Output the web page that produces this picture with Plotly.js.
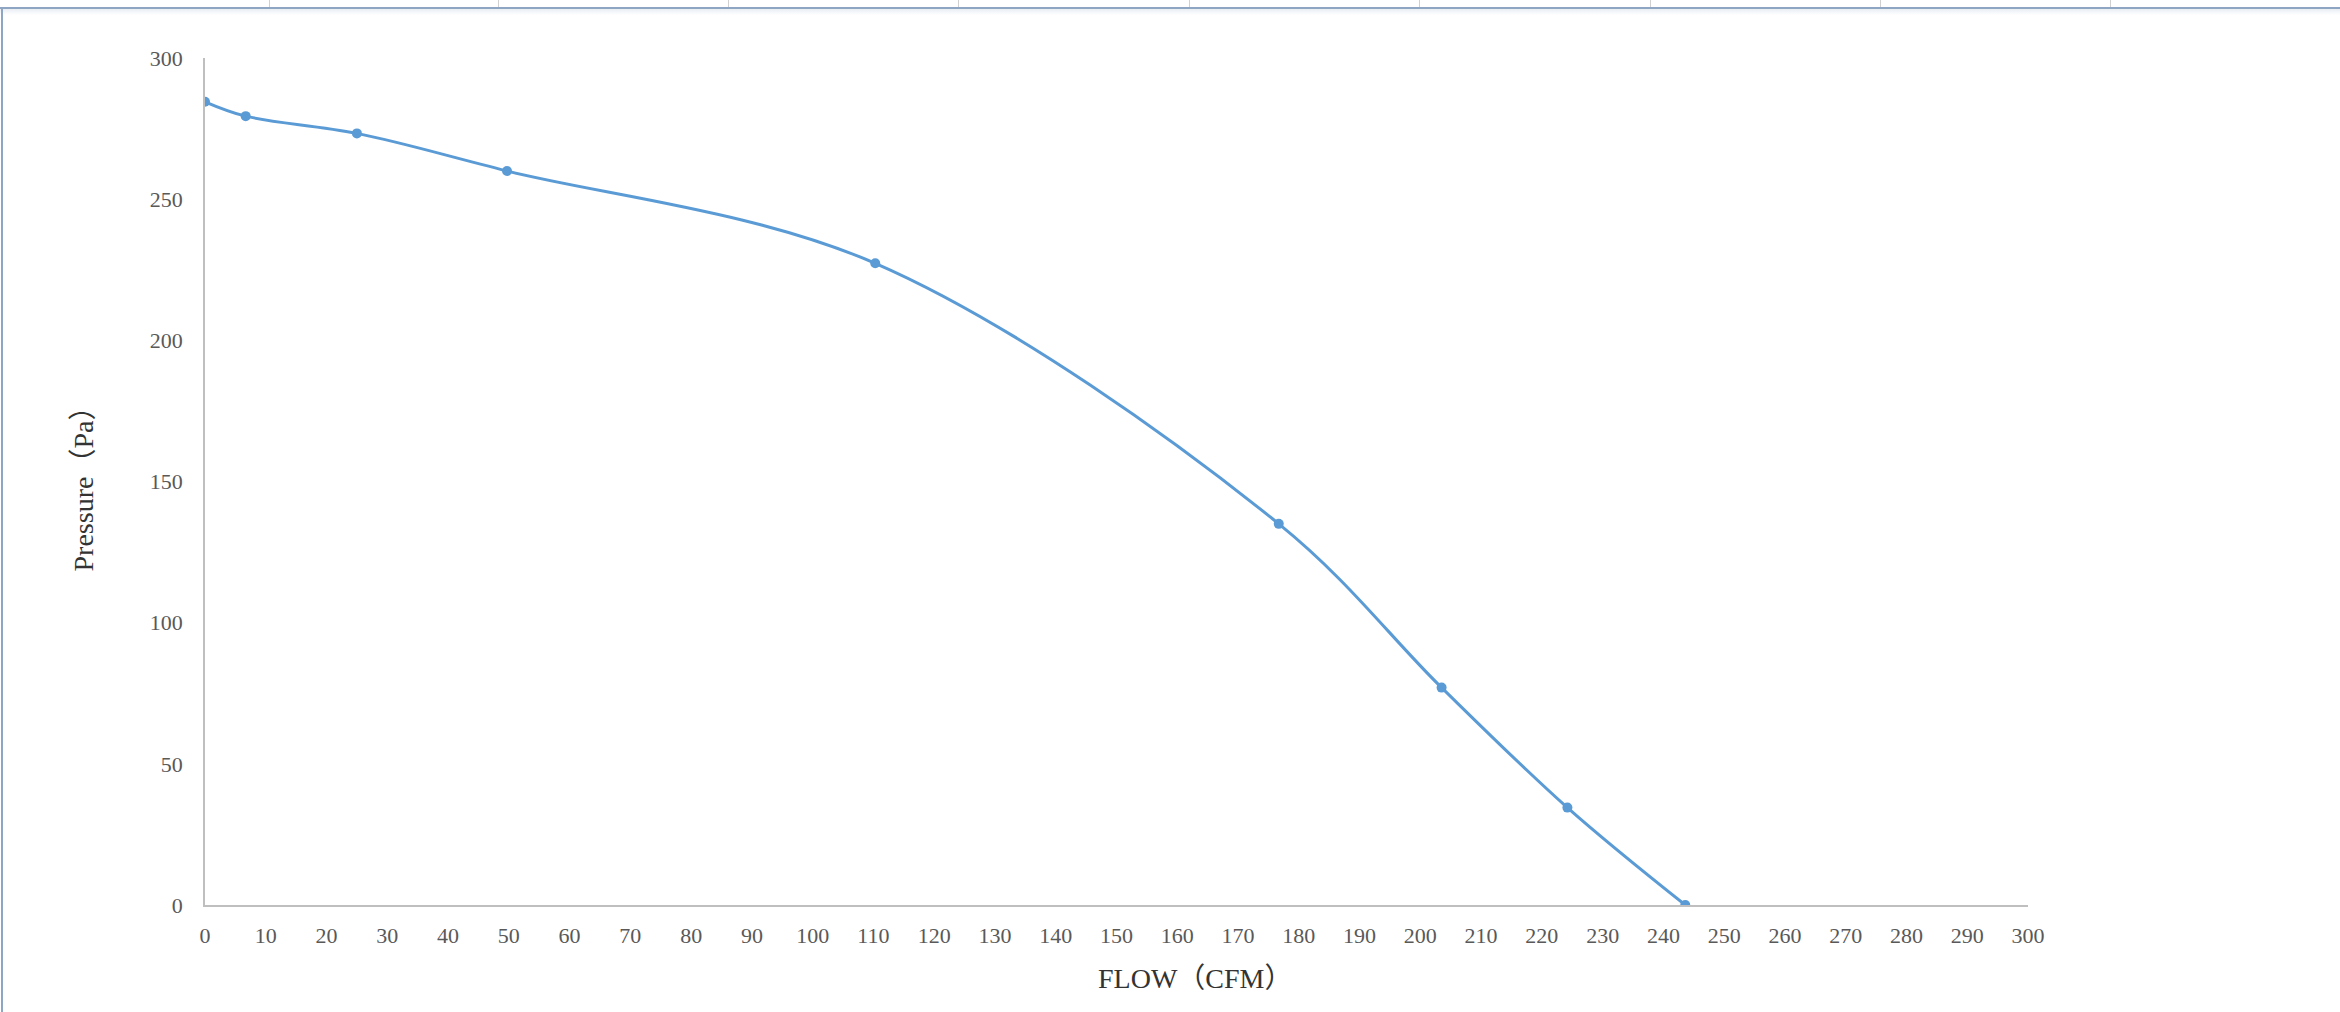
<!DOCTYPE html>
<html>
<head>
<meta charset="utf-8">
<script src="https://cdn.plot.ly/plotly-3.0.1.min.js"></script>
<style>
  html, body { margin: 0; padding: 0; background: #ffffff; }
  #wrap { position: relative; width: 2340px; height: 1012px; overflow: hidden; }
  #chart { position: absolute; left: 0; top: 0; width: 2340px; height: 1012px; }
  .frameTop { position: absolute; left: 0; top: 7px; width: 2340px; height: 2px; background: #8ea6c2; }
  .frameShadow { position: absolute; left: 0; top: 9px; width: 2340px; height: 6px; background: linear-gradient(#e9eef4, #ffffff); }
  .frameLeft { position: absolute; left: 1px; top: 7px; width: 2px; height: 1005px; background: #8ea6c2; }
  .colTick { position: absolute; top: 0; width: 1px; height: 7px; background: #d0d0d0; }
</style>
</head>
<body>
<div id="wrap">
  <div id="chart"></div>
  <div class="frameShadow"></div>
  <div class="frameTop"></div>
  <div class="frameLeft"></div>
</div>
<script>
// Data
const flowCFM = [0, 6.7, 25, 49.7, 110.3, 176.7, 203.5, 224.2, 243.6];
const pressurePa = [284.5, 279.4, 273.3, 260, 227.3, 135, 77, 34.5, 0];
const xTickValues = [0,10,20,30,40,50,60,70,80,90,100,110,120,130,140,150,160,170,180,190,200,210,220,230,240,250,260,270,280,290,300];
const yTickValues = [0, 50, 100, 150, 200, 250, 300];
const xTitle = "FLOW（CFM）";
const yTitle = "Pressure（Pa）";
const colTickPx = [269, 498, 728, 958, 1189, 1419, 1650, 1880, 2110];

// decorative spreadsheet column separators at the top
const wrap = document.getElementById('wrap');
colTickPx.forEach(function (p) {
  const d = document.createElement('div');
  d.className = 'colTick';
  d.style.left = p + 'px';
  wrap.appendChild(d);
});

const fontFam = '"Liberation Serif", "Noto Sans CJK SC", serif';

const trace = {
  x: flowCFM,
  y: pressurePa,
  type: 'scatter',
  mode: 'lines+markers',
  line: { color: '#5b9bd5', width: 3, shape: 'spline', smoothing: 1 },
  marker: { color: '#5b9bd5', size: 10 },
  hoverinfo: 'x+y',
  showlegend: false
};

const layout = {
  width: 2340,
  height: 1012,
  margin: { l: 205, r: 312, t: 58, b: 107, pad: 0 },
  paper_bgcolor: '#ffffff',
  plot_bgcolor: '#ffffff',
  font: { family: fontFam, color: '#595959', size: 22 },
  xaxis: {
    range: [0, 300],
    tickvals: xTickValues,
    ticktext: xTickValues.map(String),
    showgrid: false,
    zeroline: false,
    showline: true,
    linecolor: '#bfbfbf',
    linewidth: 1.5,
    ticks: '',
    ticklabelstandoff: 10,
    tickfont: { family: fontFam, size: 22, color: '#595959' },
    fixedrange: true
  },
  yaxis: {
    range: [0, 300],
    tickvals: yTickValues,
    ticktext: yTickValues.map(String),
    showgrid: false,
    zeroline: false,
    showline: true,
    linecolor: '#bfbfbf',
    linewidth: 1.5,
    ticks: '',
    ticklabelstandoff: 16,
    tickfont: { family: fontFam, size: 22, color: '#595959' },
    fixedrange: true
  },
  annotations: [
    {
      text: xTitle,
      xref: 'paper', yref: 'paper',
      x: 0.543, y: -0.0862,
      xanchor: 'center', yanchor: 'middle',
      showarrow: false,
      font: { family: fontFam, size: 28, color: '#333333' }
    },
    {
      text: yTitle,
      xref: 'paper', yref: 'paper',
      x: -0.0664, y: 0.5,
      xanchor: 'center', yanchor: 'middle',
      textangle: -90,
      showarrow: false,
      font: { family: fontFam, size: 28, color: '#333333' }
    }
  ]
};

Plotly.newPlot('chart', [trace], layout, { displayModeBar: false, staticPlot: false, responsive: false });
</script>
</body>
</html>
